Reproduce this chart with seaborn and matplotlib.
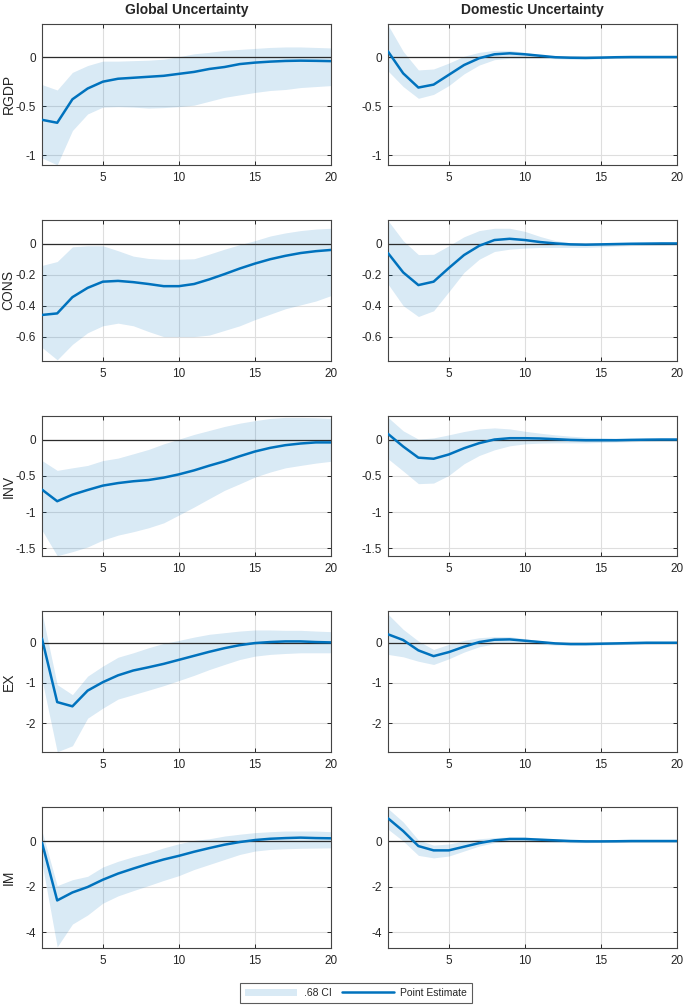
import matplotlib
matplotlib.use("Agg")
import matplotlib.pyplot as plt
import matplotlib.ticker as mticker
from matplotlib.patches import Patch
from matplotlib.lines import Line2D
import pandas as pd
import seaborn as sns

# Data: impulse responses, horizon 1..20
horizon = list(range(1, 21))
variables = ["RGDP", "CONS", "INV", "EX", "IM"]
shocks = ["Global Uncertainty", "Domestic Uncertainty"]

# --- Global uncertainty shock ---
rgdp_glo_mid = [-0.64, -0.67, -0.43, -0.32, -0.25, -0.22, -0.21, -0.20, -0.19, -0.17,
                -0.15, -0.12, -0.10, -0.07, -0.055, -0.045, -0.038, -0.035, -0.037, -0.04]
rgdp_glo_up = [-0.28, -0.335, -0.155, -0.085, -0.04, -0.04, -0.035, -0.03, -0.02, 0.005,
               0.035, 0.05, 0.07, 0.08, 0.09, 0.10, 0.105, 0.105, 0.10, 0.095]
rgdp_glo_lo = [-1.03, -1.10, -0.75, -0.58, -0.51, -0.505, -0.51, -0.52, -0.515, -0.505,
               -0.49, -0.45, -0.41, -0.385, -0.36, -0.34, -0.33, -0.31, -0.30, -0.29]

cons_glo_mid = [-0.46, -0.45, -0.345, -0.285, -0.245, -0.24, -0.248, -0.26, -0.274, -0.274,
                -0.26, -0.23, -0.196, -0.16, -0.128, -0.10, -0.078, -0.06, -0.048, -0.04]
cons_glo_up = [-0.14, -0.115, -0.02, -0.013, -0.013, -0.045, -0.08, -0.095, -0.10, -0.10,
               -0.097, -0.067, -0.035, -0.006, 0.02, 0.05, 0.07, 0.085, 0.095, 0.10]
cons_glo_lo = [-0.67, -0.75, -0.65, -0.575, -0.53, -0.513, -0.53, -0.567, -0.60, -0.60,
               -0.60, -0.59, -0.56, -0.53, -0.49, -0.455, -0.42, -0.395, -0.37, -0.335]

inv_glo_mid = [-0.69, -0.85, -0.76, -0.695, -0.635, -0.60, -0.575, -0.558, -0.525, -0.48,
               -0.425, -0.36, -0.30, -0.23, -0.165, -0.115, -0.078, -0.055, -0.04, -0.04]
inv_glo_up = [-0.29, -0.425, -0.39, -0.357, -0.29, -0.256, -0.197, -0.137, -0.06, 0.005,
              0.07, 0.125, 0.18, 0.225, 0.26, 0.29, 0.305, 0.305, 0.30, 0.29]
inv_glo_lo = [-1.25, -1.60, -1.545, -1.48, -1.385, -1.317, -1.27, -1.216, -1.148, -1.04,
              -0.93, -0.814, -0.70, -0.61, -0.517, -0.448, -0.39, -0.357, -0.325, -0.30]

ex_glo_mid = [0.10, -1.475, -1.58, -1.19, -0.98, -0.81, -0.69, -0.61, -0.525, -0.425,
              -0.325, -0.225, -0.135, -0.06, -0.008, 0.017, 0.033, 0.033, 0.017, 0.008]
ex_glo_up = [0.75, -1.04, -1.29, -0.83, -0.58, -0.36, -0.25, -0.125, -0.017, 0.058,
             0.14, 0.21, 0.25, 0.29, 0.317, 0.317, 0.308, 0.308, 0.29, 0.275]
ex_glo_lo = [-0.92, -2.71, -2.56, -1.875, -1.625, -1.40, -1.29, -1.18, -1.067, -0.94,
             -0.81, -0.667, -0.54, -0.417, -0.333, -0.29, -0.267, -0.25, -0.25, -0.25]

im_glo_mid = [-0.07, -2.61, -2.26, -2.02, -1.70, -1.43, -1.21, -1.00, -0.81, -0.65,
              -0.47, -0.31, -0.16, -0.044, 0.044, 0.10, 0.13, 0.15, 0.13, 0.12]
im_glo_up = [0.44, -1.96, -1.70, -1.55, -1.14, -0.89, -0.69, -0.52, -0.30, -0.12,
             0.03, 0.10, 0.22, 0.30, 0.37, 0.41, 0.44, 0.44, 0.44, 0.41]
im_glo_lo = [-0.96, -4.65, -3.65, -3.25, -2.73, -2.41, -2.18, -1.96, -1.73, -1.52,
             -1.25, -1.03, -0.81, -0.59, -0.44, -0.37, -0.34, -0.32, -0.31, -0.30]

# --- Domestic uncertainty shock ---
rgdp_dom_mid = [0.06, -0.165, -0.31, -0.28, -0.18, -0.08, -0.01, 0.03, 0.04, 0.03,
                0.015, 0.0, -0.005, -0.007, -0.004, 0.0, 0.002, 0.002, 0.002, 0.002]
rgdp_dom_up = [0.33, 0.06, -0.13, -0.12, -0.06, 0.01, 0.05, 0.07, 0.07, 0.05,
               0.025, 0.01, 0.005, 0.005, 0.006, 0.008, 0.01, 0.01, 0.01, 0.01]
rgdp_dom_lo = [-0.14, -0.30, -0.42, -0.38, -0.29, -0.17, -0.08, -0.025, -0.01, -0.01,
               -0.01, -0.015, -0.02, -0.02, -0.015, -0.01, -0.01, -0.01, -0.008, -0.008]

cons_dom_mid = [-0.06, -0.185, -0.267, -0.245, -0.157, -0.073, -0.013, 0.024, 0.032, 0.024,
                0.011, 0.002, -0.004, -0.006, -0.004, -0.002, 0.0, 0.001, 0.002, 0.002]
cons_dom_up = [0.15, 0.02, -0.07, -0.068, -0.013, 0.045, 0.085, 0.10, 0.10, 0.08,
               0.047, 0.02, 0.006, 0.002, 0.003, 0.003, 0.004, 0.004, 0.004, 0.004]
cons_dom_lo = [-0.26, -0.40, -0.47, -0.433, -0.31, -0.185, -0.10, -0.05, -0.035, -0.028,
               -0.024, -0.024, -0.024, -0.024, -0.02, -0.015, -0.012, -0.01, -0.008, -0.006]

inv_dom_mid = [0.078, -0.096, -0.25, -0.265, -0.206, -0.12, -0.05, 0.0, 0.018, 0.018,
               0.014, 0.005, -0.005, -0.01, -0.01, -0.01, -0.005, -0.002, 0.0, 0.0]
inv_dom_up = [0.305, 0.12, 0.005, 0.022, 0.064, 0.11, 0.146, 0.16, 0.146, 0.114,
              0.087, 0.064, 0.046, 0.032, 0.027, 0.018, 0.014, 0.01, 0.01, 0.01]
inv_dom_lo = [-0.265, -0.434, -0.608, -0.60, -0.494, -0.334, -0.22, -0.142, -0.087, -0.06,
              -0.05, -0.046, -0.046, -0.046, -0.04, -0.035, -0.03, -0.025, -0.02, -0.02]

ex_dom_mid = [0.21, 0.067, -0.19, -0.333, -0.233, -0.10, 0.017, 0.075, 0.083, 0.05,
              0.017, -0.017, -0.033, -0.033, -0.025, -0.017, -0.008, 0.0, 0.0, 0.0]
ex_dom_up = [0.71, 0.333, 0.042, -0.167, -0.04, 0.058, 0.125, 0.15, 0.15, 0.10,
             0.05, 0.017, 0.0, 0.005, 0.01, 0.01, 0.01, 0.01, 0.01, 0.01]
ex_dom_lo = [-0.29, -0.35, -0.46, -0.54, -0.40, -0.233, -0.10, -0.025, 0.0, -0.017,
             -0.042, -0.058, -0.067, -0.067, -0.058, -0.05, -0.04, -0.03, -0.025, -0.02]

im_dom_mid = [1.00, 0.44, -0.22, -0.41, -0.41, -0.25, -0.09, 0.03, 0.09, 0.09,
              0.06, 0.03, 0.0, -0.015, -0.015, -0.01, 0.0, 0.0, 0.0, 0.0]
im_dom_up = [1.43, 0.84, 0.044, -0.18, -0.13, 0.0, 0.10, 0.15, 0.18, 0.18,
             0.13, 0.09, 0.06, 0.044, 0.03, 0.03, 0.03, 0.03, 0.03, 0.03]
im_dom_lo = [0.52, 0.0, -0.63, -0.74, -0.66, -0.44, -0.22, -0.07, -0.015, -0.015,
             -0.044, -0.06, -0.07, -0.07, -0.06, -0.05, -0.05, -0.045, -0.04, -0.04]

irf = {
    ("RGDP", 0): (rgdp_glo_lo, rgdp_glo_mid, rgdp_glo_up),
    ("RGDP", 1): (rgdp_dom_lo, rgdp_dom_mid, rgdp_dom_up),
    ("CONS", 0): (cons_glo_lo, cons_glo_mid, cons_glo_up),
    ("CONS", 1): (cons_dom_lo, cons_dom_mid, cons_dom_up),
    ("INV", 0): (inv_glo_lo, inv_glo_mid, inv_glo_up),
    ("INV", 1): (inv_dom_lo, inv_dom_mid, inv_dom_up),
    ("EX", 0): (ex_glo_lo, ex_glo_mid, ex_glo_up),
    ("EX", 1): (ex_dom_lo, ex_dom_mid, ex_dom_up),
    ("IM", 0): (im_glo_lo, im_glo_mid, im_glo_up),
    ("IM", 1): (im_dom_lo, im_dom_mid, im_dom_up),
}

ylims = {"RGDP": (-1.1, 0.34), "CONS": (-0.755, 0.155), "INV": (-1.61, 0.33),
         "EX": (-2.72, 0.78), "IM": (-4.7, 1.49)}
yticks = {"RGDP": [-1, -0.5, 0], "CONS": [-0.6, -0.4, -0.2, 0], "INV": [-1.5, -1, -0.5, 0],
          "EX": [-2, -1, 0], "IM": [-4, -2, 0]}

LINE_COLOR = "#0072BD"
BAND_COLOR = "#0072BD"

sns.set_style("ticks")
plt.rcParams['font.family'] = ['Liberation Sans', 'DejaVu Sans']
plt.rcParams['axes.unicode_minus'] = False

fig, axes = plt.subplots(5, 2, figsize=(6.85, 10.07), dpi=100)
fig.subplots_adjust(left=0.0613, right=0.9883, top=0.9762, bottom=0.0586,
                    wspace=0.197, hspace=0.39)

for i, var in enumerate(variables):
    for j, shock in enumerate(shocks):
        ax = axes[i, j]
        lo, mid, up = irf[(var, j)]
        df = pd.DataFrame({"h": horizon, "mid": mid})

        ax.grid(True, color="#dedede", linewidth=0.8, zorder=0)
        ax.fill_between(horizon, lo, up, color=BAND_COLOR, alpha=0.15,
                        linewidth=0, zorder=1)
        ax.axhline(0, color="#2b2b2b", linewidth=0.9, zorder=2)
        sns.lineplot(data=df, x="h", y="mid", color=LINE_COLOR, linewidth=1.8,
                     ax=ax, zorder=3)

        ax.set_xlim(1, 20)
        ax.set_xticks([5, 10, 15, 20])
        ax.set_ylim(*ylims[var])
        ax.set_yticks(yticks[var])
        ax.yaxis.set_major_formatter(mticker.FormatStrFormatter("%g"))
        ax.set_xlabel("")
        ax.set_ylabel(var if j == 0 else "", fontsize=10)
        ax.yaxis.set_label_coords(-0.092, 0.5)
        ax.tick_params(direction="in", length=3, width=0.7, top=True, right=True,
                       labelsize=8.5, colors="#262626")
        ax.tick_params(axis="x", pad=5)
        ax.tick_params(axis="y", pad=4.5)
        for sp in ax.spines.values():
            sp.set_color("#444444")
            sp.set_linewidth(0.8)
        ax.set_axisbelow(True)
        if i == 0:
            ax.set_title(shock, fontsize=10, fontweight="bold", pad=7)

handles = [Patch(facecolor=BAND_COLOR, alpha=0.15, edgecolor="none", label=".68 CI"),
           Line2D([0], [0], color=LINE_COLOR, linewidth=1.8, label="Point Estimate")]
leg = fig.legend(handles=handles, loc="center", bbox_to_anchor=(0.52, 0.0139), ncol=2,
                 fontsize=7.5, frameon=True, fancybox=False, edgecolor="#333333",
                 handlelength=5, columnspacing=1.0, handletextpad=0.6, borderpad=0.5)
leg.get_frame().set_linewidth(0.8)

fig.savefig("out.png", dpi=100)
